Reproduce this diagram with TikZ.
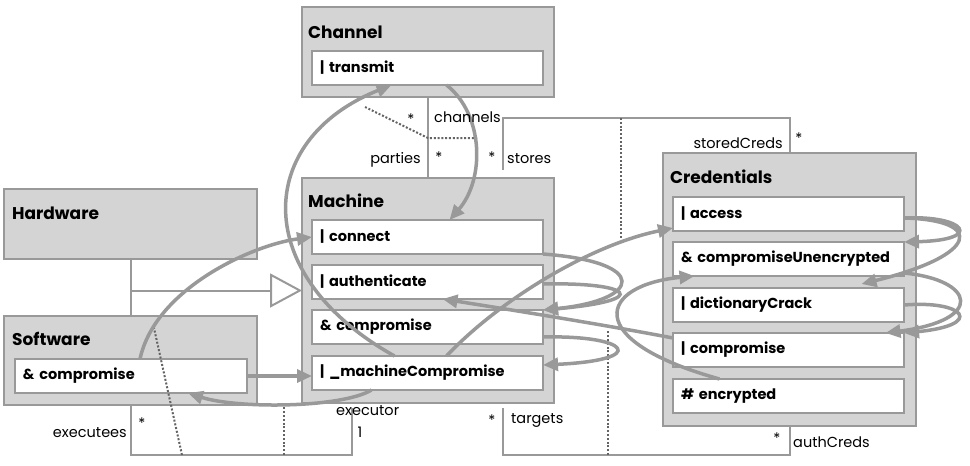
\documentclass[tikz,border=0pt]{standalone}
\usepackage{fontspec}
\setmainfont{Poppins}
\usetikzlibrary{arrows.meta}

\definecolor{edgegray}{RGB}{153,153,153}
\definecolor{classfill}{RGB}{212,212,212}
\definecolor{dotgray}{RGB}{100,100,100}

\tikzset{
    classbox/.style = {
        draw=edgegray,
        fill=classfill,
        line width=2.5pt,
        anchor=north west,
        inner sep=0pt,
        outer sep=0pt
    },
    classname/.style = {
        anchor=base west,
        inner sep=0pt,
        font=\fontsize{17}{20}\selectfont\bfseries
    },
    attackstep/.style = {
        draw=edgegray,
        fill=white,
        line width=2.5pt,
        anchor=north west,
        text width=215pt,
        minimum height=34pt,
        inner xsep=8pt,
        inner ysep=0pt,
        outer sep=0pt,
        align=left,
        font=\fontsize{14.5}{16}\selectfont\bfseries
    },
    assoc/.style = {
        draw=edgegray,
        line width=2pt
    },
    assoclink/.style = {
        draw=dotgray,
        line width=2pt,
        dash pattern=on 2pt off 1.8pt
    },
    leads/.style = {
        draw=edgegray,
        line width=3.5pt,
        -{Triangle[length=15pt, width=13pt]}
    },
    rolename/.style = {
        inner sep=0pt,
        font=\fontsize{14.5}{17}\selectfont
    }
}

\begin{document}
\begin{tikzpicture}[x=1pt, y=-1pt]
    \useasboundingbox (0,0) rectangle (970,466);

    % Draw classes
    \node[classbox, minimum width=252pt, minimum height=90pt]  (channel)     at (302,7)   {};
    \node[classbox, minimum width=252pt, minimum height=225pt] (machine)     at (302,178) {};
    \node[classbox, minimum width=253pt, minimum height=70pt]  (hardware)    at (4,189)   {};
    \node[classbox, minimum width=253pt, minimum height=89pt]  (software)    at (4,316)   {};
    \node[classbox, minimum width=253pt, minimum height=273pt] (credentials) at (663,153) {};

    \node[classname] (channeltitle)     at ([shift={(6,31)}]channel.north west)     {Channel};
    \node[classname] (machinetitle)     at ([shift={(6,29)}]machine.north west)     {Machine};
    \node[classname] (hardwaretitle)    at ([shift={(8,30)}]hardware.north west)    {Hardware};
    \node[classname] (softwaretitle)    at ([shift={(8,29)}]software.north west)    {Software};
    \node[classname] (credentialstitle) at ([shift={(7,30)}]credentials.north west) {Credentials};

    % Draw attack steps
    \node[attackstep] (transmit)          at (312,51)  {| transmit};
    \node[attackstep] (connect)           at (312,220) {| connect};
    \node[attackstep] (authenticate)      at (312,265) {| authenticate};
    \node[attackstep] (compromise)        at (312,310) {\& compromise};
    \node[attackstep] (machineCompromise) at (312,356) {| \_machineCompromise};
    \node[attackstep, text width=216pt] (swcompromise) at (15,359) {\& compromise};
    \node[attackstep] (access)                at (673,197) {| access};
    \node[attackstep] (compromiseUnencrypted) at (673,242) {\& compromiseUnencrypted};
    \node[attackstep] (dictionaryCrack)       at (673,288) {| dictionaryCrack};
    \node[attackstep] (ccompromise)           at (673,333) {| compromise};
    \node[attackstep] (encrypted)             at (673,379) {\# encrypted};

    % Draw associations
    \draw[assoc] (channel) -- (machine);
    \draw[assoc] ([shift={(75,-8)}]machine.north) |- ([shift={(0,-35)}]credentials.north) -- (credentials.north);
    \draw[assoc] ([shift={(75,5)}]machine.south) |- ([shift={(0,29)}]credentials.south) -- (credentials.south);
    \draw[assoc] (software.south) |- ([shift={(-76,52)}]machine.south) -- ([shift={(-76,5)}]machine.south);
    \draw[assoc] (hardware) -- (software);
    \draw[assoc, -{Triangle[open, length=32pt, width=34pt]}] (hardware.south |- machine.west) -- (machine.west);

    % Dotted links from associations to steps
    \coordinate (partiesjoin)   at (428,138);
    \coordinate (partiesleft)   at (365,107);
    \coordinate (partiesright)  at (477,138);
    \coordinate (storestop)     at (621,118);
    \coordinate (storesend)     at (621,238);
    \coordinate (targetsbottom) at (608,455);
    \coordinate (targetsend)    at (608,330);
    \coordinate (execbottom)    at (182,455);
    \coordinate (execend)       at (154,328);
    \coordinate (execbottomb)   at (284,455);
    \coordinate (execendb)      at (284,403);
    \draw[assoclink] (partiesleft) -- (partiesjoin) -- (partiesright);
    \draw[assoclink] (storestop) -- (storesend);
    \draw[assoclink] (targetsbottom) -- (targetsend);
    \draw[assoclink] (execbottom) -- (execend);
    \draw[assoclink] (execbottomb) -- (execendb);

    % Draw arrows
    \draw[leads] ([xshift=9pt]swcompromise.north) .. controls +(15,-70) and +(-60,8) .. (connect.west);
    \draw[leads] (swcompromise.east) -- (swcompromise.east -| machineCompromise.west);
    \draw[leads] ([xshift=-56pt]machineCompromise.south) .. controls +(-30,18) and +(50,16) .. ([xshift=57pt]swcompromise.south);
    \draw[leads] ([xshift=-33pt]machineCompromise.north) .. controls +(-145,-81) and +(-137,55) .. ([xshift=-36pt]transmit.south);
    \draw[leads] ([xshift=19pt]transmit.south) .. controls +(38,30) and +(35,-40) .. ([xshift=22pt]connect.north);
    \draw[leads] (connect.south east) .. controls +(107,8) and +(99,-10) .. (compromise.north east);
    \draw[leads] ([shift={(0,2)}]authenticate.east) .. controls +(87,-2) and +(112,-10) .. (compromise.north east);
    \draw[leads] ([shift={(0,10)}]compromise.east) .. controls +(87,-2) and +(107,-5) .. ([shift={(0,9)}]machineCompromise.north east);
    \draw[leads] ([xshift=19pt]machineCompromise.north) .. controls +(53,-56) and +(-83,17) .. ([shift={(0,-3)}]access.south west);
    \draw[leads] ([shift={(0,-12)}]ccompromise.west) .. controls +(-73,-14) and +(57,9) .. ([xshift=15pt]authenticate.south);
    %
    \draw[leads] ([shift={(0,4)}]access.east) .. controls +(61,-3) and +(81,-2) .. (compromiseUnencrypted.north east);
    \draw[leads] ([shift={(0,4)}]access.east) .. controls +(81,2) and +(118,-29) .. ([shift={(73,-4)}]dictionaryCrack.north);
    \draw[leads] ([shift={(0,-3)}]compromiseUnencrypted.south east) .. controls +(71,7) and +(100,-13) .. ([xshift=97pt]ccompromise.north);
    \draw[leads] (dictionaryCrack.east) .. controls +(61,-5) and +(81,-8) .. (ccompromise.north east);
    \draw[leads] ([xshift=-69pt]encrypted.north) .. controls +(-140,-39) and +(-95,9) .. ([xshift=-94pt]compromiseUnencrypted.south);

    % Draw labels
    \node[rolename] (channelsmult)  at (411,119) {*};
    \node[rolename, anchor=base west] (channelsrole) at (434,122) {channels};
    \node[rolename, anchor=base east] (partiesrole)  at (421,163) {parties};
    \node[rolename] (partiesmult)   at (439,157) {*};
    \node[rolename] (storesmult)    at (492,157) {*};
    \node[rolename, anchor=base west] (storesrole)   at (507,163) {stores};
    \node[rolename, anchor=base east] (storedrole)   at (783,148) {storedCreds};
    \node[rolename] (storedmult)    at (799,138) {*};
    \node[rolename, anchor=base east] (executeesrole) at (127,437) {executees};
    \node[rolename] (executeesmult) at (142,423) {*};
    \node[rolename, anchor=base west] (executorrole) at (336,415) {executor};
    \node[rolename] (executormult)  at (360,432) {1};
    \node[rolename] (targetsmult)   at (492,420) {*};
    \node[rolename, anchor=base west] (targetsrole)  at (511,423) {targets};
    \node[rolename] (authmult)      at (777,438) {*};
    \node[rolename, anchor=base west] (authrole)     at (793,447) {authCreds};
\end{tikzpicture}
\end{document}
